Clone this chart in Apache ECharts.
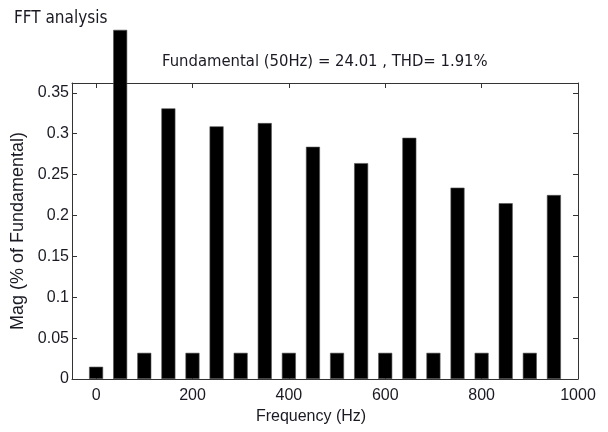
<!DOCTYPE html>
<html>
<head>
<meta charset="utf-8">
<title>FFT analysis</title>
<script src="https://cdn.jsdelivr.net/npm/echarts@6/dist/echarts.min.js"></script>
<style>
  html, body { margin: 0; padding: 0; background: #fff; }
  #chart { width: 608px; height: 432px; }
</style>
</head>
<body>
<div id="chart"></div>
<script>
// Harmonic frequencies (Hz) and magnitudes (% of fundamental).
// The 50 Hz fundamental runs off the top of the axes; its drawn height is the visible extent.
const freqs = [0, 50, 100, 150, 200, 250, 300, 350, 400, 450, 500, 550, 600, 650, 700, 750, 800, 850, 900, 950];
const mags  = [0.015, 0.427, 0.032, 0.331, 0.032, 0.309, 0.032, 0.313, 0.032, 0.284, 0.032, 0.264, 0.032, 0.295, 0.032, 0.234, 0.032, 0.215, 0.032, 0.225];
const xTicks = [0, 200, 400, 600, 800, 1000];
const yTicks = [0, 0.05, 0.1, 0.15, 0.2, 0.25, 0.3, 0.35];

const titleText = 'FFT analysis';
const infoText = 'Fundamental (50Hz) = 24.01 , THD= 1.91%';

const textColor = '#1a1a24';
const fontFam = '"Liberation Sans", Arial, sans-serif';
const narrowFam = '"Liberation Sans Narrow", "DejaVu Sans Condensed", "Liberation Sans", sans-serif';

const chart = echarts.init(document.getElementById('chart'), null, { renderer: 'canvas' });

const axisLine = { show: true, onZero: false, lineStyle: { color: '#333', width: 1 } };
const tickInside = { show: true, inside: true, length: 5, lineStyle: { color: '#333', width: 1 } };

chart.setOption({
  animation: false,
  backgroundColor: '#fff',
  title: [
    {
      text: titleText, left: 9, top: 5,
      textStyle: { fontFamily: narrowFam, fontSize: 17, fontWeight: 'normal', color: textColor }
    },
    {
      text: infoText, left: 157, top: 48,
      textStyle: { fontFamily: narrowFam, fontSize: 16.5, fontWeight: 'normal', color: textColor }
    }
  ],
  grid: { left: 72, right: 30, top: 83, bottom: 53, show: false },
  xAxis: [
    {
      type: 'value', position: 'bottom', min: -50, max: 1000,
      name: 'Frequency (Hz)', nameLocation: 'middle', nameGap: 30,
      nameTextStyle: { fontFamily: fontFam, fontSize: 16, color: textColor, padding: [0, 28, 0, 0] },
      axisLine: axisLine,
      axisTick: Object.assign({}, tickInside, { customValues: xTicks }),
      axisLabel: {
        customValues: xTicks, margin: 9, fontFamily: fontFam, fontSize: 16, color: textColor,
        formatter: v => String(v)
      },
      splitLine: { show: false }
    },
    {
      type: 'value', position: 'top', min: -50, max: 1000,
      axisLine: axisLine,
      axisTick: Object.assign({}, tickInside, { customValues: xTicks }),
      axisLabel: { show: false },
      splitLine: { show: false }
    }
  ],
  yAxis: [
    {
      type: 'value', position: 'left', min: 0, max: 0.362,
      name: 'Mag (% of Fundamental)', nameLocation: 'middle', nameGap: 44,
      nameTextStyle: { fontFamily: fontFam, fontSize: 18, color: textColor },
      axisLine: axisLine,
      axisTick: Object.assign({}, tickInside, { customValues: yTicks }),
      axisLabel: {
        customValues: yTicks, margin: 3, fontFamily: fontFam, fontSize: 16, color: textColor,
        formatter: v => String(v)
      },
      splitLine: { show: false }
    },
    {
      type: 'value', position: 'right', min: 0, max: 0.362,
      axisLine: axisLine,
      axisTick: Object.assign({}, tickInside, { customValues: yTicks }),
      axisLabel: { show: false },
      splitLine: { show: false }
    }
  ],
  series: [
    {
      type: 'bar',
      xAxisIndex: 0, yAxisIndex: 0,
      data: freqs.map((f, i) => [f, mags[i]]),
      barWidth: 14,
      clip: false,
      itemStyle: { color: '#000', borderColor: '#555', borderWidth: 0.6 }
    }
  ]
});
</script>
</body>
</html>
